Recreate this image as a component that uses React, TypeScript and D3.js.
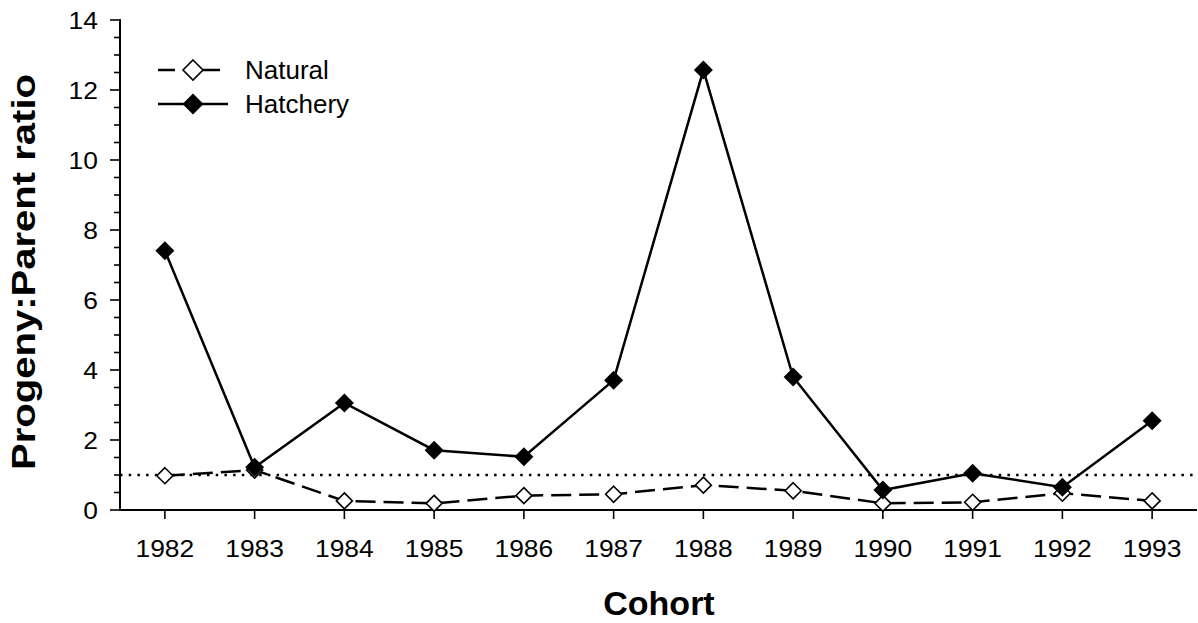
import React, { useEffect, useRef } from 'react';
import * as d3 from 'd3';

const cohorts = ['1982', '1983', '1984', '1985', '1986', '1987', '1988', '1989', '1990', '1991', '1992', '1993'];
const natural = [0.98, 1.14, 0.26, 0.19, 0.41, 0.45, 0.71, 0.55, 0.19, 0.22, 0.48, 0.26];
const hatchery = [7.41, 1.22, 3.06, 1.71, 1.52, 3.71, 12.57, 3.8, 0.57, 1.05, 0.65, 2.55];
const yTicks = [0, 2, 4, 6, 8, 10, 12, 14];
const replacementLine = 1;

const W = 1198;
const H = 623;
const FONT = 'Arial, "Liberation Sans", Helvetica, sans-serif';

// widen a text node a little, the source render is slightly stretched
function stretch(sel: d3.Selection<SVGTextElement, any, any, any>, k: number) {
  sel.each(function () {
    const len = this.getComputedTextLength();
    d3.select(this).attr('textLength', len * k).attr('lengthAdjust', 'spacingAndGlyphs');
  });
}

export default function App() {
  const ref = useRef<SVGSVGElement | null>(null);

  useEffect(() => {
    if (!ref.current) return;
    const svg = d3.select(ref.current);
    svg.selectAll('*').remove();

    const left = 120, right = 1197, top = 20, bottom = 510;
    const x = d3.scaleBand().domain(cohorts).range([left, right]);
    const cx = (c: string) => (x(c) ?? 0) + x.bandwidth() / 2;
    const y = d3.scaleLinear().domain([0, 14]).range([bottom, top]);

    // reference line at ratio 1
    svg.append('line')
      .attr('x1', left).attr('x2', right)
      .attr('y1', y(replacementLine)).attr('y2', y(replacementLine))
      .attr('stroke', '#000').attr('stroke-width', 2.5)
      .attr('stroke-dasharray', '2.5,6.2');

    // y axis
    const yAxis = svg.append('g');
    yAxis.append('line').attr('x1', left).attr('x2', left).attr('y1', top - 1).attr('y2', bottom)
      .attr('stroke', '#000').attr('stroke-width', 2);
    d3.range(0, 14.01, 0.5).forEach(v => {
      const major = Math.abs(v % 2) < 1e-6;
      yAxis.append('line')
        .attr('x1', left - (major ? 10 : 6)).attr('x2', left)
        .attr('y1', y(v)).attr('y2', y(v))
        .attr('stroke', '#000').attr('stroke-width', 1.6);
    });
    const yt = yAxis.selectAll<SVGTextElement, number>('text.yt').data(yTicks).enter().append('text')
      .attr('x', 98).attr('y', d => y(d)).attr('dy', '0.36em')
      .attr('text-anchor', 'end')
      .style('font-family', FONT).style('font-size', '24px')
      .text(d => d);
    stretch(yt, 1.1);

    // x axis
    const xAxis = svg.append('g');
    xAxis.append('line').attr('x1', left - 1).attr('x2', right).attr('y1', bottom).attr('y2', bottom)
      .attr('stroke', '#000').attr('stroke-width', 2);
    xAxis.selectAll('line.xt').data(cohorts).enter().append('line')
      .attr('x1', d => cx(d)).attr('x2', d => cx(d)).attr('y1', bottom).attr('y2', bottom + 9)
      .attr('stroke', '#000').attr('stroke-width', 1.6);
    const xt = xAxis.selectAll<SVGTextElement, string>('text.xt').data(cohorts).enter().append('text')
      .attr('x', d => cx(d)).attr('y', 557)
      .attr('text-anchor', 'middle')
      .style('font-family', FONT).style('font-size', '24px')
      .text(d => d);
    stretch(xt, 1.1);

    // axis titles
    svg.append('text').attr('x', 659).attr('y', 615)
      .attr('text-anchor', 'middle')
      .style('font-family', FONT).style('font-size', '34px').style('font-weight', 'bold')
      .text('Cohort');
    svg.append('text')
      .attr('transform', 'translate(35,272) rotate(-90)')
      .attr('text-anchor', 'middle')
      .attr('textLength', 396).attr('lengthAdjust', 'spacingAndGlyphs')
      .style('font-family', FONT).style('font-size', '34px').style('font-weight', 'bold')
      .text('Progeny:Parent ratio');

    const line = d3.line<number>().x((_, i) => cx(cohorts[i])).y(d => y(d));
    const diamond = (s: number) => `M0,${-s}L${s},0L0,${s}L${-s},0Z`;

    // natural series
    svg.append('path').datum(natural).attr('d', line)
      .attr('fill', 'none').attr('stroke', '#000').attr('stroke-width', 2.5)
      .attr('stroke-dasharray', '20,8');
    svg.selectAll('path.nat').data(natural).enter().append('path')
      .attr('transform', (d, i) => `translate(${cx(cohorts[i])},${y(d)})`)
      .attr('d', diamond(8))
      .attr('fill', '#fff').attr('stroke', '#000').attr('stroke-width', 1.6);

    // hatchery series
    svg.append('path').datum(hatchery).attr('d', line)
      .attr('fill', 'none').attr('stroke', '#000').attr('stroke-width', 2.5);
    svg.selectAll('path.hat').data(hatchery).enter().append('path')
      .attr('transform', (d, i) => `translate(${cx(cohorts[i])},${y(d)})`)
      .attr('d', diamond(9.5))
      .attr('fill', '#000');

    // legend
    const lg = svg.append('g');
    lg.append('line').attr('x1', 158).attr('x2', 175).attr('y1', 70).attr('y2', 70)
      .attr('stroke', '#000').attr('stroke-width', 2.5);
    lg.append('line').attr('x1', 203).attr('x2', 220).attr('y1', 70).attr('y2', 70)
      .attr('stroke', '#000').attr('stroke-width', 2.5);
    lg.append('path').attr('transform', 'translate(193,70)').attr('d', diamond(10))
      .attr('fill', '#fff').attr('stroke', '#000').attr('stroke-width', 1.6);
    lg.append('text').attr('x', 245).attr('y', 79)
      .style('font-family', FONT).style('font-size', '26px').text('Natural');
    lg.append('line').attr('x1', 158).attr('x2', 228).attr('y1', 104).attr('y2', 104)
      .attr('stroke', '#000').attr('stroke-width', 2.5);
    lg.append('path').attr('transform', 'translate(193,104)').attr('d', diamond(10.5))
      .attr('fill', '#000');
    lg.append('text').attr('x', 245).attr('y', 113)
      .style('font-family', FONT).style('font-size', '26px').text('Hatchery');
  }, []);

  return (
    <svg ref={ref} width={W} height={H}
      style={{ position: 'absolute', left: 0, top: 0, background: '#fff' }} />
  );
}
